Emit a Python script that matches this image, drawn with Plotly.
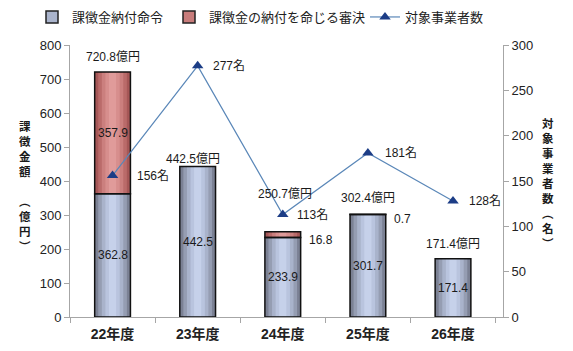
import plotly.graph_objects as go

# ---------------- data ----------------
categories = ["22年度", "23年度", "24年度", "25年度", "26年度"]
order_amount = [362.8, 442.5, 233.9, 301.7, 171.4]      # 課徴金納付命令 (億円)
decision_amount = [357.9, 0.0, 16.8, 0.7, 0.0]          # 課徴金の納付を命じる審決 (億円)
total_amount = [720.8, 442.5, 250.7, 302.4, 171.4]      # 合計 (億円)
companies = [156, 277, 113, 181, 128]                   # 対象事業者数 (名)

left_ticks = [0, 100, 200, 300, 400, 500, 600, 700, 800]
right_ticks = [0, 50, 100, 150, 200, 250, 300]

# ---------------- style ----------------
W, H = 573, 351
ML, MR, MT, MB = 70, 70, 45, 34
PW, PH = W - ML - MR, H - MT - MB
FONT = "Liberation Sans, Arial, Noto Sans CJK JP, sans-serif"
JFONT = "Noto Sans CJK JP, sans-serif"
BAR_W = 0.42
fracs = [1.0, 0.8, 0.6, 0.4, 0.2]
blue_grad = ["#7b8194", "#959db2", "#a9b3cb", "#b9c4de", "#c6d1ea"]
red_grad = ["#a65757", "#ba6b6a", "#cb7f7e", "#d78e8d", "#e09b9a"]
LINE_COLOR = "#5a87b8"
MARK_COLOR = "#1c3d86"

fig = go.Figure()


def nz(vals):
    return [v if v > 0 else None for v in vals]


base_zero = [0] * len(categories)

# gradient layers (overlay) for the two stacked series
for f, c in zip(fracs, blue_grad):
    fig.add_trace(go.Bar(x=categories, y=order_amount, base=base_zero, width=BAR_W * f,
                         marker=dict(color=c, line=dict(width=0)), showlegend=False,
                         hoverinfo="skip"))
for f, c in zip(fracs, red_grad):
    fig.add_trace(go.Bar(x=categories, y=nz(decision_amount), base=order_amount, width=BAR_W * f,
                         marker=dict(color=c, line=dict(width=0)), showlegend=False,
                         hoverinfo="skip"))
# outlines
fig.add_trace(go.Bar(x=categories, y=order_amount, base=base_zero, width=BAR_W,
                     marker=dict(color="rgba(0,0,0,0)", line=dict(color="#111111", width=1.5)),
                     showlegend=False, hoverinfo="skip"))
fig.add_trace(go.Bar(x=categories, y=nz(decision_amount), base=order_amount, width=BAR_W,
                     marker=dict(color="rgba(0,0,0,0)", line=dict(color="#111111", width=1.5)),
                     showlegend=False, hoverinfo="skip"))
# legend proxies
fig.add_trace(go.Bar(x=categories, y=[None] * len(categories), name="課徴金納付命令",
                     legend="legend",
                     marker=dict(color="#aab4cc", line=dict(color="#222222", width=1.5))))
fig.add_trace(go.Bar(x=categories, y=[None] * len(categories), name="課徴金の納付を命じる審決",
                     legend="legend2",
                     marker=dict(color="#c87c7b", line=dict(color="#222222", width=1.5))))

# line on secondary axis
fig.add_trace(go.Scatter(x=categories, y=companies, yaxis="y2", mode="lines+markers",
                         name="対象事業者数", legend="legend3",
                         line=dict(color=LINE_COLOR, width=1.2),
                         marker=dict(symbol="triangle-up", size=10, color=MARK_COLOR)))

ann = []
# inside labels
for c, v in zip(categories, order_amount):
    ann.append(dict(x=c, y=v / 2, xref="x", yref="y", text=f"{v:.1f}", showarrow=False,
                    font=dict(size=12, color="#1a1a1a", family=FONT)))
for c, b, v in zip(categories, order_amount, decision_amount):
    if v <= 0:
        continue
    if v >= 50:
        ann.append(dict(x=c, y=b + v / 2, xref="x", yref="y", text=f"{v:.1f}", showarrow=False,
                        font=dict(size=12, color="#1a1a1a", family=FONT)))
    else:
        ann.append(dict(x=c, y=b + v / 2, xref="x", yref="y", text=f"{v:.1f}", showarrow=False,
                        xanchor="left", xshift=24, yshift=-5,
                        font=dict(size=12, color="#1a1a1a", family=FONT)))
# total labels
tot_dy = [15, 7.5, 38, 16, 15]
tot_dx = [0, -5, 2, 0, 0]
for c, t, dy, dx in zip(categories, total_amount, tot_dy, tot_dx):
    ann.append(dict(x=c, y=t, xref="x", yref="y", text=f"{t:.1f}億円", showarrow=False,
                    yanchor="middle", yshift=dy, xshift=dx,
                    font=dict(size=12, color="#1a1a1a", family=FONT)))
# company labels
name_dx = [22, 13, 12, 15, 14]
for c, n, dx in zip(categories, companies, name_dx):
    ann.append(dict(x=c, y=n, xref="x", yref="y2", text=f"{n}名", showarrow=False,
                    xanchor="left", xshift=dx,
                    font=dict(size=12, color="#1a1a1a", family=FONT)))

# vertical axis titles (stacked characters)
left_title = "課<br>徴<br>金<br>額<br> <br>︵<br>億<br>円<br>︶"
right_title = "対<br>象<br>事<br>業<br>者<br>数<br>︵<br>名<br>︶"
title_font = dict(size=11.5, color="#1a1a1a", family=JFONT, weight="bold")
ann.append(dict(x=(25 - ML) / PW, y=(H - 186 - MB) / PH, xref="paper", yref="paper",
                text=left_title, showarrow=False, xanchor="center", yanchor="middle",
                font=title_font))
ann.append(dict(x=(548 - ML) / PW, y=(H - 183 - MB) / PH, xref="paper", yref="paper",
                text=right_title, showarrow=False, xanchor="center", yanchor="middle",
                font=title_font))

axis_line = "#a6a6a6"
leg_common = dict(orientation="h", xref="container", yref="container",
                  y=1 - 17 / H, xanchor="left", yanchor="middle",
                  font=dict(size=13, family=JFONT, color="#222222"),
                  bgcolor="rgba(0,0,0,0)")
fig.update_layout(
    width=W, height=H,
    margin=dict(l=ML, r=MR, t=MT, b=MB, pad=0, autoexpand=False),
    paper_bgcolor="white", plot_bgcolor="white",
    barmode="overlay",
    font=dict(family=FONT, size=13, color="#222222"),
    showlegend=True,
    legend=dict(x=32 / W, **leg_common),
    legend2=dict(x=169 / W, **leg_common),
    legend3=dict(x=365 / W, **leg_common),
    xaxis=dict(showline=True, linecolor=axis_line, linewidth=1, ticks="outside",
               tickson="boundaries", ticklen=5, tickcolor=axis_line, ticklabelstandoff=4,
               automargin=False,
               tickfont=dict(size=14, family=FONT, color="#222222", weight="bold"),
               showgrid=False, zeroline=False),
    yaxis=dict(range=[0, 800], tickvals=left_ticks, showline=True, linecolor=axis_line,
               ticks="outside", ticklen=5, tickcolor=axis_line, showgrid=False,
               automargin=False,
               zeroline=False, tickfont=dict(size=13, color="#222222")),
    yaxis2=dict(range=[0, 300], tickvals=right_ticks, overlaying="y", side="right",
                showline=True, linecolor=axis_line, ticks="outside", ticklen=5,
                tickcolor=axis_line, showgrid=False, zeroline=False, automargin=False,
                tickfont=dict(size=13, color="#222222")),
    annotations=ann,
)

fig.write_html("out.html")
